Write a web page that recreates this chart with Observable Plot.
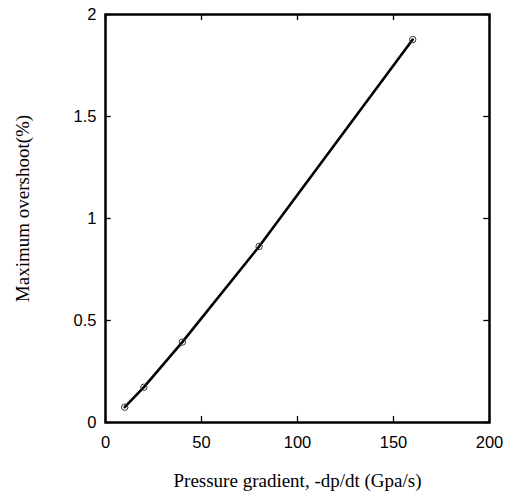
<!DOCTYPE html>
<html>
<head>
<meta charset="utf-8">
<script src="https://cdn.jsdelivr.net/npm/d3@7"></script>
<script src="https://cdn.jsdelivr.net/npm/@observablehq/plot@0.6"></script>
<style>
  html, body { margin: 0; padding: 0; background: #fff; }
</style>
</head>
<body>
<div id="chart"></div>
<script>
const pressureGradient = [10, 20, 40, 80, 160];
const maxOvershoot = [0.075, 0.173, 0.394, 0.863, 1.877];
const xTicks = [0, 50, 100, 150, 200];
const yTicks = [0, 0.5, 1, 1.5, 2];
const xTitle = "Pressure gradient, -dp/dt (Gpa/s)";
const yTitle = "Maximum overshoot(%)";

const data = pressureGradient.map((x, i) => ({x, y: maxOvershoot[i]}));
const fmt = d => String(d);
const serif = "'Liberation Serif', 'Times New Roman', serif";

const chart = Plot.plot({
  width: 511,
  height: 497,
  marginLeft: 105,
  marginRight: 22,
  marginTop: 14,
  marginBottom: 75,
  style: {fontFamily: "'Liberation Sans', Arial, sans-serif", fontSize: "16.5px", color: "#000", background: "#fff"},
  x: {domain: [0, 200]},
  y: {domain: [0, 2]},
  marks: [
    Plot.axisX({anchor: "bottom", ticks: xTicks, tickSize: 0, tickPadding: 14, tickFormat: fmt, label: null, fontSize: 16.5}),
    Plot.axisY({anchor: "left", ticks: yTicks, tickSize: 0, tickPadding: 9, tickFormat: fmt, label: null, fontSize: 16.5}),
    // inward ticks on all four sides
    Plot.ruleX(xTicks, {x: d => d, y1: 0, y2: 0.03, stroke: "#000", strokeWidth: 1.3}),
    Plot.ruleX(xTicks, {x: d => d, y1: 2, y2: 1.97, stroke: "#000", strokeWidth: 1.3}),
    Plot.ruleY(yTicks, {y: d => d, x1: 0, x2: 3, stroke: "#000", strokeWidth: 1.3}),
    Plot.ruleY(yTicks, {y: d => d, x1: 200, x2: 197, stroke: "#000", strokeWidth: 1.3}),
    Plot.frame({stroke: "#000", strokeWidth: 2.5}),
    Plot.line(data, {x: "x", y: "y", stroke: "#000", strokeWidth: 2.6}),
    Plot.dot(data, {x: "x", y: "y", r: 3.2, stroke: "#333", strokeWidth: 1, fill: "none"}),
    Plot.text([xTitle], {frameAnchor: "bottom", dy: 64, textAnchor: "middle", text: d => d, fontFamily: serif, fontSize: 19, fill: "#000"}),
    Plot.text([yTitle], {frameAnchor: "left", dx: -83, dy: -10, textAnchor: "middle", rotate: -90, text: d => d, fontFamily: serif, fontSize: 19, fill: "#000"})
  ]
});
document.getElementById("chart").appendChild(chart);
</script>
</body>
</html>
